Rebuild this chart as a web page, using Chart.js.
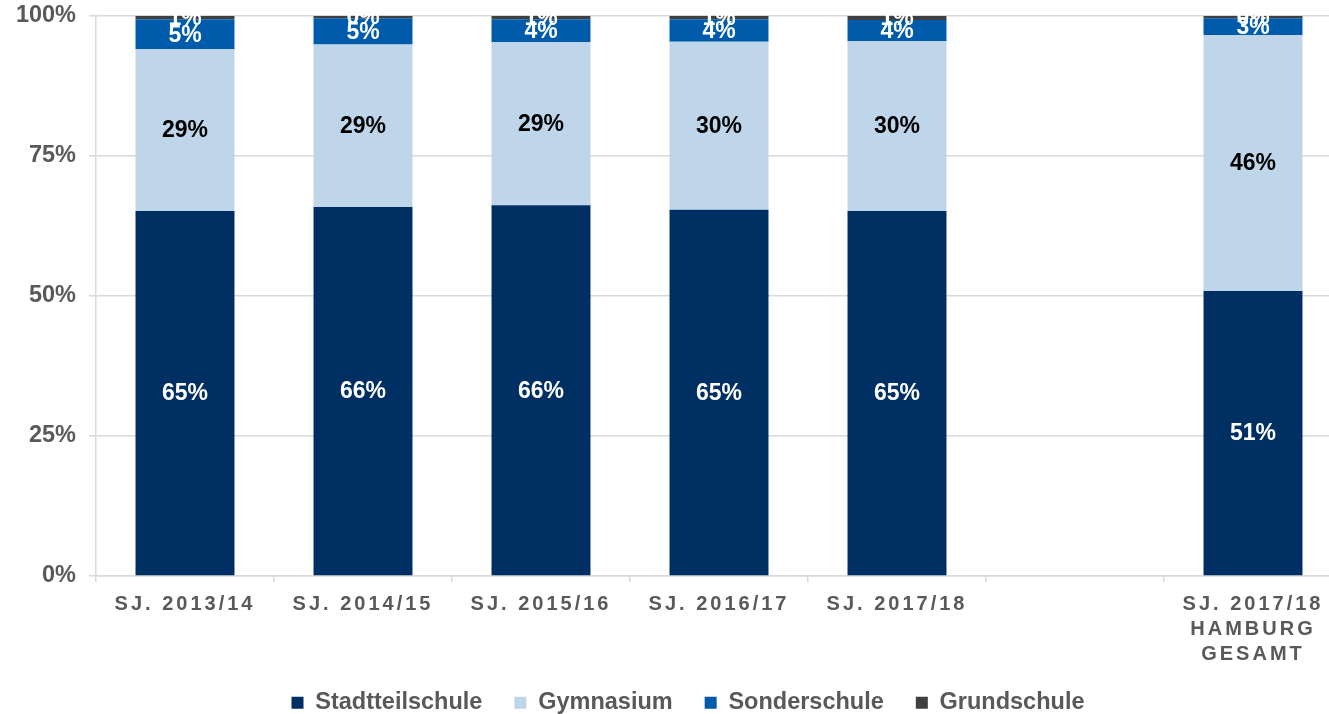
<!DOCTYPE html>
<html>
  <head>
    <meta charset="UTF-8" />
    <title>Schulformen</title>
    <script src="https://cdn.jsdelivr.net/npm/chart.js@4"></script>
    <style>
      html, body { margin: 0; padding: 0; overflow: hidden; background: #fff; }
      .chart-wrapper { position: relative; width: 1346px; height: 714px; }
    </style>
  </head>
  <body>
    <div class="chart-wrapper">
      <canvas id="chart"></canvas>
    </div>
    <script>
      const categories = [
        "SJ. 2013/14",
        "SJ. 2014/15",
        "SJ. 2015/16",
        "SJ. 2016/17",
        "SJ. 2017/18",
        "",
        ["SJ. 2017/18", "HAMBURG", "GESAMT"],
      ];
      const stadtteilschule = [65.2, 65.9, 66.2, 65.4, 65.2, null, 50.9];
      const gymnasium = [28.9, 29.0, 29.1, 30.0, 30.3, null, 45.7];
      const sonderschule = [5.3, 4.7, 4.1, 4.0, 3.8, null, 3.0];
      const grundschule = [0.6, 0.4, 0.6, 0.6, 0.7, null, 0.4];
      const yTicks = [0, 25, 50, 75, 100];

      const FONT = "'Liberation Sans', Arial, sans-serif";
      const GREY = "#595959";
      const GRID = "#D9D9D9";

      // Prozentwerte in die Balken schreiben
      const segmentLabels = {
        id: "segmentLabels",
        afterDatasetsDraw(chart) {
          const ctx = chart.ctx;
          ctx.save();
          ctx.font = "bold 23px " + FONT;
          ctx.textAlign = "center";
          ctx.textBaseline = "middle";
          chart.data.datasets.forEach((ds, di) => {
            const meta = chart.getDatasetMeta(di);
            meta.data.forEach((bar, i) => {
              const v = ds.data[i];
              if (v === null) return;
              const { x, y, base } = bar.getProps(["x", "y", "base"], true);
              ctx.fillStyle = ds.labelColor;
              ctx.fillText(Math.round(v) + "%", x, (y + base) / 2 + 1);
            });
          });
          ctx.restore();
        },
      };

      // x-Beschriftung gesperrt (letter spacing), ohne Clipping
      const spacedXLabels = {
        id: "spacedXLabels",
        afterLayout(chart) {
          // Legende etwas nach rechts wie im Original
          chart.legend.left += 17;
          chart.legend.right += 17;
        },
        beforeDraw(chart) {
          const sc = chart.scales.x;
          if (sc._spaced) return;
          const orig = sc.drawLabels.bind(sc);
          sc._computeLabelArea = () => undefined;
          sc.drawLabels = function (area) {
            const ctx = chart.ctx;
            ctx.save();
            ctx.letterSpacing = "3px";
            orig(area);
            ctx.restore();
          };
          sc._spaced = true;
        },
      };

      new Chart(document.getElementById("chart"), {
        type: "bar",
        data: {
          labels: categories,
          datasets: [
            { label: "Stadtteilschule", data: stadtteilschule, backgroundColor: "#002F63", labelColor: "#FFFFFF" },
            { label: "Gymnasium", data: gymnasium, backgroundColor: "#BFD5EA", labelColor: "#000000" },
            { label: "Sonderschule", data: sonderschule, backgroundColor: "#005BAA", labelColor: "#FFFFFF" },
            { label: "Grundschule", data: grundschule, backgroundColor: "#404040", labelColor: "#FFFFFF" },
          ],
        },
        options: {
          responsive: true,
          maintainAspectRatio: false,
          animation: false,
          categoryPercentage: 1,
          barPercentage: 0.556,
          layout: { padding: { top: 16, right: 4, left: 0, bottom: 0 } },
          plugins: {
            tooltip: { enabled: false },
            legend: {
              position: "bottom",
              maxHeight: 55,
              labels: {
                boxWidth: 12,
                boxHeight: 12,
                padding: 32,
                color: GREY,
                font: { family: FONT, size: 23.5, weight: "bold" },
              },
            },
          },
          scales: {
            x: {
              stacked: true,
              grid: { display: true, drawOnChartArea: false, drawTicks: true, tickLength: 6, color: GRID, lineWidth: 1.5 },
              border: { display: true, color: GRID, width: 1.5 },
              ticks: {
                color: GREY,
                padding: 10,
                maxRotation: 0,
                autoSkip: false,
                font: { family: FONT, size: 20, weight: "bold", lineHeight: 1.25 },
              },
              afterFit(scale) {
                scale.height = 83;
                scale.paddingLeft = 0;
                scale.paddingRight = 0;
              },
            },
            y: {
              stacked: true,
              min: 0,
              max: 100,
              afterBuildTicks(scale) { scale.ticks = yTicks.map((v) => ({ value: v })); },
              grid: { color: GRID, lineWidth: 1.5, drawTicks: true, tickLength: 7 },
              border: { display: true, color: GRID, width: 1.5 },
              ticks: {
                color: GREY,
                padding: 13,
                font: { family: FONT, size: 23.5, weight: "bold" },
                callback: (v) => v + "%",
              },
              afterFit(scale) {
                scale.width = 96;
                scale.paddingTop = 0;
                scale.paddingBottom = 0;
              },
            },
          },
        },
        plugins: [segmentLabels, spacedXLabels],
      });
    </script>
  </body>
</html>
